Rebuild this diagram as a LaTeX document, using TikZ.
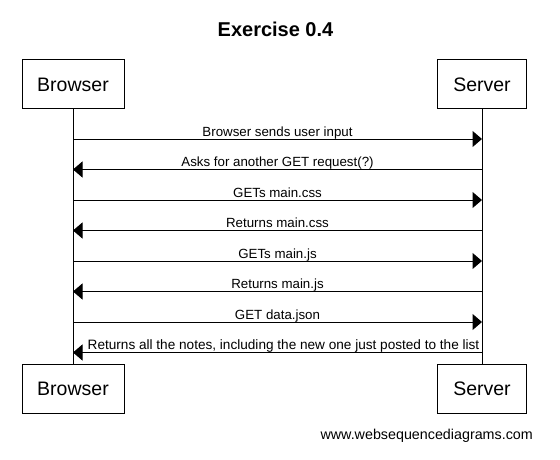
\documentclass[tikz,border=0pt]{standalone}
\usepackage{fontspec}
\setmainfont{Liberation Sans}
\usetikzlibrary{arrows.meta}
\tikzset{
  actor/.style={draw, line width=1pt, inner sep=0pt, outer sep=0pt, minimum height=49pt, font=\fontsize{19.5}{22}\selectfont},
  life/.style={line width=1pt},
  msg/.style={line width=1pt, -{Triangle[length=9.5pt,width=16pt]}},
  lbl/.style={anchor=base, inner sep=0pt, font=\fontsize{13.3}{15}\selectfont},
}
\begin{document}
\begin{tikzpicture}[x=1pt,y=-1pt]
\useasboundingbox (0,0) rectangle (560,460);
\node[anchor=base, font=\bfseries\fontsize{20}{24}\selectfont] (title) at (275.5,37) {Exercise 0.4};
\node[actor, minimum width=102pt] (bt) at (73,84.5) {Browser};
\node[actor, minimum width=89.5pt] (st) at (482,84.5) {Server};
\node[actor, minimum width=102pt] (bb) at (73,389) {Browser};
\node[actor, minimum width=89.5pt] (sb) at (482,389) {Server};
\draw[life] (bt.south) -- (bb.north);
\draw[life] (st.south) -- (sb.north);
\coordinate (b1) at (73,139);   \coordinate (s1) at (482,139);
\coordinate (b2) at (73,169.5); \coordinate (s2) at (482,169.5);
\coordinate (b3) at (73,200);   \coordinate (s3) at (482,200);
\coordinate (b4) at (73,230.5); \coordinate (s4) at (482,230.5);
\coordinate (b5) at (73,261);   \coordinate (s5) at (482,261);
\coordinate (b6) at (73,291.5); \coordinate (s6) at (482,291.5);
\coordinate (b7) at (73,322);   \coordinate (s7) at (482,322);
\coordinate (b8) at (73,352.5); \coordinate (s8) at (482,352.5);
\draw[msg] (b1) -- (s1);
\draw[msg] (s2) -- (b2);
\draw[msg] (b3) -- (s3);
\draw[msg] (s4) -- (b4);
\draw[msg] (b5) -- (s5);
\draw[msg] (s6) -- (b6);
\draw[msg] (b7) -- (s7);
\draw[msg] (s8) -- (b8);
\node[lbl] (l1) at (277.5,136) {Browser sends user input};
\node[lbl] (l2) at (277.5,166.5) {Asks for another GET request(?)};
\node[lbl] (l3) at (277.5,197) {GETs main.css};
\node[lbl] (l4) at (277.5,227.5) {Returns main.css};
\node[lbl] (l5) at (277.5,258) {GETs main.js};
\node[lbl] (l6) at (277.5,288.5) {Returns main.js};
\node[lbl] (l7) at (277.5,319) {GET data.json};
\node[lbl, font=\fontsize{13.6}{15}\selectfont] (l8) at (283.5,349.5) {Returns all the notes, including the new one just posted to the list};
\node[anchor=base east, inner sep=0pt, font=\fontsize{14.3}{16}\selectfont] (wm) at (533,439) {www.websequencediagrams.com};
\end{tikzpicture}
\end{document}
